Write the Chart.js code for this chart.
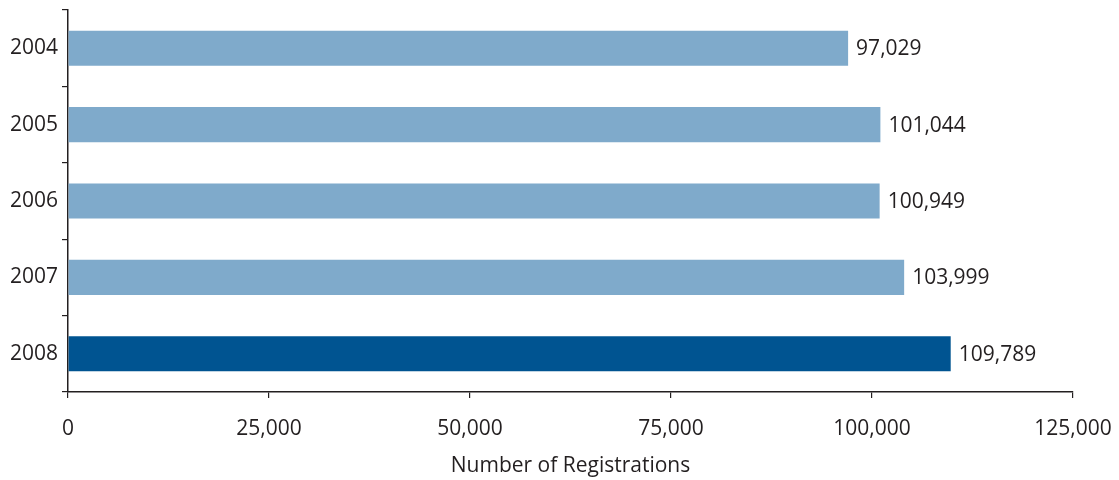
<!DOCTYPE html>
<html>
<head>
<meta charset="utf-8">
<script src="https://cdn.jsdelivr.net/npm/chart.js@4"></script>
<style>
  html, body { margin: 0; padding: 0; background: #fff; }
  #wrap { width: 1119px; height: 480px; }
</style>
</head>
<body>
<div id="wrap"><canvas id="RegChart" width="1119" height="480"></canvas></div>
<script>
// data
const years = ['2004', '2005', '2006', '2007', '2008'];
const registrations = [97029, 101044, 100949, 103999, 109789];
const xTicks = [0, 25000, 50000, 75000, 100000, 125000];

const lightBlue = '#7faacb';
const darkBlue = '#005491';
const ink = '#231f20';
const barColors = years.map((y, i) => i === years.length - 1 ? darkBlue : lightBlue);

const fmt = v => v.toLocaleString('en-US');

// value labels at the end of each bar
const endLabels = {
  id: 'endLabels',
  afterDatasetsDraw(chart) {
    const c = chart.ctx;
    const meta = chart.getDatasetMeta(0);
    c.save();
    c.font = '21px "Open Sans"';
    c.fillStyle = ink;
    c.textAlign = 'left';
    c.textBaseline = 'middle';
    meta.data.forEach((bar, i) => {
      c.fillText(fmt(registrations[i]), bar.x + 8, bar.y + 1);
    });
    c.restore();
  }
};

const ctx = document.getElementById('RegChart').getContext('2d');

new Chart(ctx, {
  type: 'bar',
  data: {
    labels: years,
    datasets: [{
      data: registrations,
      backgroundColor: barColors,
      borderWidth: 0,
      barPercentage: 0.46,
      categoryPercentage: 1
    }]
  },
  options: {
    indexAxis: 'y',
    responsive: false,
    animation: false,
    layout: { padding: { top: 10, right: 46, left: 0, bottom: 0 } },
    plugins: {
      legend: { display: false },
      tooltip: { enabled: false }
    },
    scales: {
      x: {
        min: 0,
        max: 125000,
        afterBuildTicks(axis) {
          axis.ticks = xTicks.map(v => ({ value: v }));
        },
        afterFit(axis) {
          axis.height = 88;
          axis.paddingLeft = 0;
          axis.paddingRight = 0;
        },
        border: { display: true, color: ink, width: 1.5 },
        grid: {
          drawOnChartArea: false,
          drawTicks: true,
          tickLength: 6,
          color: ink,
          lineWidth: 1.2
        },
        ticks: {
          color: ink,
          font: { family: 'Open Sans', size: 21 },
          padding: 18,
          maxRotation: 0,
          callback: v => fmt(v)
        },
        title: {
          display: true,
          text: 'Number of Registrations',
          color: ink,
          font: { family: 'Open Sans', size: 21 },
          padding: { top: 0, bottom: 1 }
        }
      },
      y: {
        afterFit(axis) {
          axis.width = 68;
          axis.paddingTop = 0;
          axis.paddingBottom = 0;
        },
        border: { display: true, color: ink, width: 1.5 },
        grid: {
          offset: true,
          drawOnChartArea: false,
          drawTicks: true,
          tickLength: 6,
          color: ink,
          lineWidth: 1.2
        },
        ticks: {
          color: ink,
          font: { family: 'Open Sans', size: 21 },
          padding: 4
        }
      }
    }
  },
  plugins: [endLabels]
});
</script>
</body>
</html>
